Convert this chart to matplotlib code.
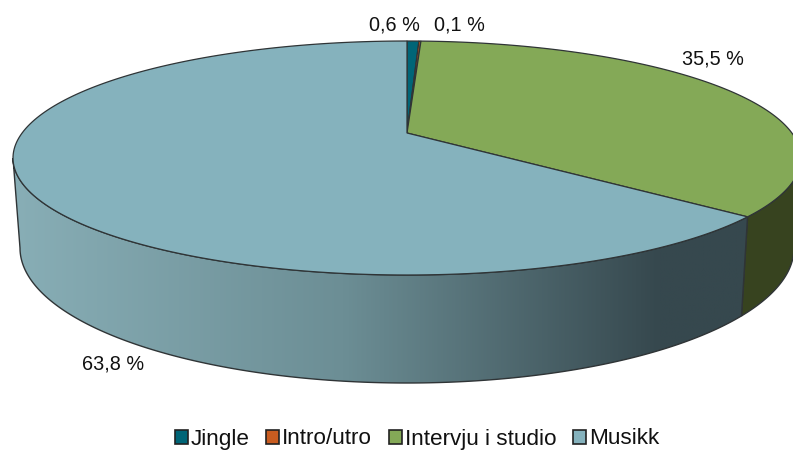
# Perspective 3D pie, Jingle / Intro/utro / Intervju i studio / Musikk shares.

import numpy as np
import matplotlib
matplotlib.use("Agg")
import matplotlib.pyplot as plt
from matplotlib.patches import Patch, Polygon

plt.rcParams["font.family"] = ["Liberation Sans", "DejaVu Sans"]

categories = ["Jingle", "Intro/utro", "Intervju i studio", "Musikk"]
shares = [0.6, 0.1, 35.5, 63.8]
share_labels = ["0,6 %", "0,1 %", "35,5 %", "63,8 %"]
colors = ["#006577", "#c95c20", "#84a957", "#85b2bd"]

# pie geometry in image pixels
CX = 407
TOP_CY, TOP_RX, TOP_RY = 158, 394, 117
BOT_CY, BOT_RX, BOT_RY = 248, 387, 135
TILT = -25 / 117  # apex sits above the middle of the ellipse
EDGE = "#2f3436"


def project(theta):
    # share angle (clockwise from top) to ellipse parameter, keeps the perspective look
    x, v = np.sin(theta), -np.cos(theta)
    xp = x * np.sqrt(1 - TILT ** 2) / (1 + TILT * v)
    vp = (v + TILT) / (1 + TILT * v)
    return xp, vp


def top_arc(t0, t1, n=200):
    xp, vp = project(np.linspace(t0, t1, n))
    return np.column_stack([CX + TOP_RX * xp, TOP_CY + TOP_RY * vp])


def param_of(theta):
    xp, vp = project(theta)
    return np.arctan2(xp, -vp)


def side_poly(t0, t1, n=200):
    t = np.linspace(t0, t1, n)
    upper = np.column_stack([CX + TOP_RX * np.sin(t), TOP_CY - TOP_RY * np.cos(t)])
    lower = np.column_stack([CX + BOT_RX * np.sin(t), BOT_CY - BOT_RY * np.cos(t)])
    return np.vstack([upper, lower[::-1]])


fig = plt.figure(figsize=(7.93, 4.5), dpi=100)
ax = fig.add_axes([0, 0, 1, 1])
ax.set_xlim(0, 793)
ax.set_ylim(450, 0)
ax.axis("off")

edges = 2 * np.pi * np.cumsum([0] + shares) / sum(shares)
apex = np.array([[CX, TOP_CY + TOP_RY * TILT]])

# sides
split = param_of(edges[3]) % (2 * np.pi)
green_side = Polygon(side_poly(np.pi / 2, split), closed=True, fc="#37431f", ec=EDGE, lw=1, zorder=2)
ax.add_patch(green_side)
music_side = Polygon(side_poly(split, 3 * np.pi / 2), closed=True, fc="none", ec=EDGE, lw=1, zorder=3)
ax.add_patch(music_side)
grad = np.linspace(0, 1, 256)
shade_left = np.array([0x88, 0xae, 0xb6]) / 255
shade_mid = np.array([0x6c, 0x8e, 0x95]) / 255
shade_right = np.array([0x36, 0x48, 0x4e]) / 255
rgb = np.array([np.interp(grad, [0, 0.45, 0.88, 1], [shade_left[i], shade_mid[i], shade_right[i], shade_right[i]])
                for i in range(3)]).T[np.newaxis, :, :]
im = ax.imshow(rgb, extent=[13, 748, 390, 150], aspect="auto", zorder=2.5)
im.set_clip_path(Polygon(side_poly(split, 3 * np.pi / 2), closed=True, transform=ax.transData))
ax.set_xlim(0, 793)
ax.set_ylim(450, 0)

# top face
for i in range(len(shares)):
    pts = np.vstack([apex, top_arc(edges[i], edges[i + 1])])
    ax.add_patch(Polygon(pts, closed=True, fc=colors[i], ec=EDGE, lw=0.9, zorder=4))

label_xy = [(394, 25), (459, 25), (713, 59), (113, 364)]
for text, (x, y) in zip(share_labels, label_xy):
    ax.text(x, y, text, ha="center", va="center", fontsize=14.3, color="#111111", zorder=5)

handles = [Patch(fc=c, ec="#222222", lw=1.2) for c in colors]
ax.legend(handles, categories, loc="center", bbox_to_anchor=(417 / 793, 1 - 439 / 450),
          ncol=4, frameon=False, fontsize=16.2, handlelength=0.58, handleheight=0.58,
          handletextpad=0.12, columnspacing=0.75, borderpad=0, labelcolor="#111111")

fig.savefig("out.png", dpi=100, facecolor="white")
